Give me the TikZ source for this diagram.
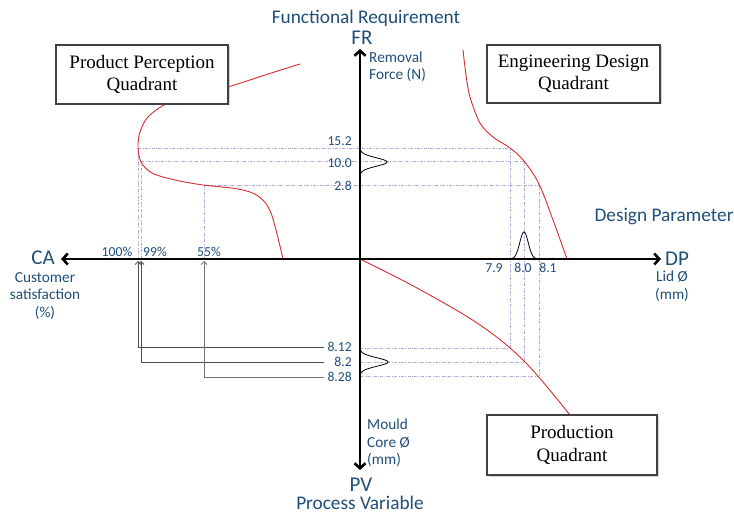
\documentclass[tikz,border=0pt]{standalone}
\usepackage{fontspec}
\setmainfont{Carlito}
\newfontfamily\boxfont{Liberation Serif}
\usetikzlibrary{arrows.meta,shadows}
\definecolor{lbl}{RGB}{31,78,121}
\definecolor{guide}{RGB}{175,165,215}
\definecolor{curvered}{RGB}{215,45,45}

\tikzset{
  lab/.style={text=lbl, font=\fontsize{15.3}{17.5}\selectfont, inner sep=0pt},
  tick/.style={text=lbl, font=\fontsize{13.7}{15}\selectfont, inner sep=0pt},
  title/.style={text=lbl, font=\fontsize{19.3}{21}\selectfont, inner sep=0pt},
  axname/.style={text=lbl, font=\fontsize{21}{23}\selectfont, inner sep=0pt},
  quad/.style={draw=black!75, line width=1.3pt, fill=white, align=center,
    font=\boxfont\fontsize{19}{22.5}\selectfont, minimum width=172pt, minimum height=59pt,
    drop shadow={shadow xshift=1.5pt, shadow yshift=-1.5pt, opacity=0.35}},
  axisline/.style={line width=2.6pt, -{Straight Barb[length=5pt,width=11pt,line width=2.6pt]}},
  guideline/.style={guide, line width=0.6pt, dash pattern=on 3pt off 1.5pt on 0.8pt off 1.5pt},
  respcurve/.style={curvered, line width=0.9pt},
  bell/.style={black, line width=0.8pt},
  conn/.style={black!70, line width=0.8pt, -{Straight Barb[length=3pt,width=6pt,line width=0.8pt]}}
}

\begin{document}
\begin{tikzpicture}[x=1pt,y=-1pt]
\useasboundingbox (0,0) rectangle (734,513);

% guide lines linking the operating points
\draw[guideline] (138,148) -- (510,148);
\draw[guideline] (141,161) -- (524,161);
\draw[guideline] (204,185) -- (539,185);
\draw[guideline] (138,148) -- (138,259);
\draw[guideline] (141,161) -- (141,259);
\draw[guideline] (204,185) -- (204,259);
\draw[guideline] (510,148) -- (510,348);
\draw[guideline] (524,161) -- (524,362);
\draw[guideline] (539,185) -- (539,376);
\draw[guideline] (360,348) -- (510,348);
\draw[guideline] (360,362) -- (524,362);
\draw[guideline] (360,376) -- (539,376);

% response curves
\draw[respcurve] plot[smooth, tension=0.55] coordinates {
  (300,64) (265,75) (228,87) (190,97) (166,104) (148,117) (140,132) (138,147)
  (141,162) (152,173) (175,180) (203,185) (238,189) (258,196) (271,213) (283,259)};
\draw[respcurve] plot[smooth, tension=0.55] coordinates {
  (463,50) (466,75) (470,97) (480,123) (493,137) (510,148) (524,161) (539,184) (553,220) (567,259)};
\draw[respcurve] plot[smooth, tension=0.6] coordinates {
  (360,259) (417,288) (480,325) (525,362) (570,415)};

% distributions
\draw[bell] plot[domain=-15:15, samples=70, smooth] ({360+27*exp(-(\x/6)^2)}, {162+\x});
\draw[bell] plot[domain=-15:15, samples=70, smooth] ({524+\x}, {259-27*exp(-(\x/6)^2)});
\draw[bell] plot[domain=-15:15, samples=70, smooth] ({360+28*exp(-(\x/6)^2)}, {362+\x});

% axes
\coordinate (origin) at (360,259);
\coordinate (frtip) at (360,49);
\coordinate (pvtip) at (360,470);
\coordinate (catip) at (61,259);
\coordinate (dptip) at (661,259);
\draw[axisline] (origin) -- (frtip);
\draw[axisline] (origin) -- (pvtip);
\draw[axisline] (origin) -- (catip);
\draw[axisline] (origin) -- (dptip);

% quadrant boxes
\node[quad] (ppq) at (142,74.5) {Product Perception\\Quadrant};
\node[quad, minimum width=173pt, minimum height=58pt] (edq) at (573.5,74) {Engineering Design\\Quadrant};
\node[quad, minimum width=170pt, minimum height=60pt] (prq) at (572,445) {Production\\Quadrant};

% axis titles
\node[title] (frtitle) at (366,18) {Functional Requirement};
\node[axname] (fr) at (362,38) {FR};
\node[lab, align=left, anchor=west] (frunit) at (369,67) {Removal\\Force (N)};
\node[title] (dptitle) at (664,217) {Design Parameter};
\node[axname] (dp) at (677,259) {DP};
\node[lab, align=center] (dpunit) at (672,286) {Lid Ø\\(mm)};
\node[axname] (ca) at (43,258) {CA};
\node[lab, align=center, text width=80pt] (caunit) at (45,296) {Customer\\satisfaction\\(\%)};
\node[lab, align=left, anchor=west] (pvunit) at (367,443) {Mould\\Core Ø\\(mm)};
\node[axname] (pv) at (361,485) {PV};
\node[title] (pvtitle) at (360,503) {Process Variable};

% tick values
\node[tick, anchor=east] (v152) at (352,141) {15.2};
\node[tick, anchor=east] (v100) at (352,163) {10.0};
\node[tick, anchor=east] (v28) at (352,186) {2.8};
\node[tick] (v79) at (494,268) {7.9};
\node[tick] (v80) at (523,268) {8.0};
\node[tick] (v81) at (548,268) {8.1};
\node[tick] (p100) at (117,252) {100\%};
\node[tick] (p99) at (155,252) {99\%};
\node[tick] (p55) at (209,252) {55\%};
\node[tick, anchor=east] (v812) at (352,347) {8.12};
\node[tick, anchor=east] (v82) at (352,362) {8.2};
\node[tick, anchor=east] (v828) at (352,377) {8.28};

% mapping from mould core size to satisfaction
\coordinate (s100) at (138,261);
\coordinate (s99) at (141,261);
\coordinate (s55) at (204,261);
\draw[conn] ([xshift=-3pt]v812.west) -| (s100);
\draw[conn] ([xshift=-3pt]v812.west |- v82.west) -| (s99);
\draw[conn, black!55] ([xshift=-3pt]v828.west) -| (s55);
\end{tikzpicture}
\end{document}
